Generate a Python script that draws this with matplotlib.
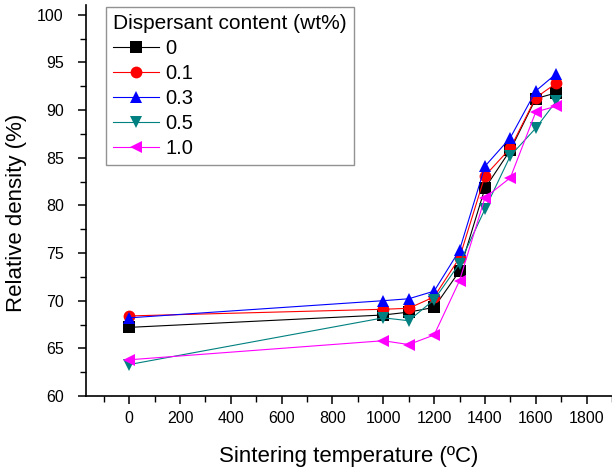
import numpy as np
import matplotlib as mpl
mpl.use("Agg")
from matplotlib import pyplot as plt
from matplotlib.ticker import MultipleLocator

plt.rcParams['font.family'] = ['Liberation Sans', 'DejaVu Sans']

# sintering temperatures (C)
temps = [0, 1000, 1100, 1200, 1300, 1400, 1500, 1600, 1680]

# relative density (%) per dispersant content
d_00 = [67.2, 68.5, 68.8, 69.3, 73.1, 81.8, 85.8, 91.2, 91.8]
d_01 = [68.4, 69.1, 69.2, 70.4, 74.5, 83.1, 86.0, 91.3, 92.8]
d_03 = [68.2, 70.0, 70.2, 71.0, 75.3, 84.1, 87.1, 92.0, 93.8]
d_05 = [63.3, 68.2, 67.9, 70.1, 73.9, 79.6, 85.2, 88.1, 90.9]
d_10 = [63.8, 65.8, 65.4, 66.4, 72.1, 80.8, 82.9, 89.8, 90.4]

labels = ['0', '0.1', '0.3', '0.5', '1.0']
series = [d_00, d_01, d_03, d_05, d_10]
colors = ['black', 'red', 'blue', '#008080', 'magenta']
markers = ['s', 'o', '^', 'v', '<']

fig = plt.figure(figsize=(6.12, 4.72), dpi=100)
ax = fig.add_axes([0.1405, 0.161, 0.8595, 0.828])

for ys, lab, c, m in zip(series, labels, colors, markers):
    ax.plot(temps, ys, color=c, lw=0.8, marker=m, markersize=8.5,
            markeredgewidth=0, label=lab)

ax.set_xlim(-170, 1900)
ax.set_ylim(60, 101)
ax.xaxis.set_major_locator(MultipleLocator(200))
ax.xaxis.set_minor_locator(MultipleLocator(100))
ax.yaxis.set_major_locator(MultipleLocator(5))
ax.yaxis.set_minor_locator(MultipleLocator(2.5))
ax.spines['top'].set_visible(False)
ax.spines['right'].set_visible(False)
ax.spines['left'].set_linewidth(1.2)
ax.spines['bottom'].set_linewidth(1.2)
ax.tick_params(which='major', direction='out', length=6, width=1.1, labelsize=11.5)
ax.tick_params(which='minor', direction='out', length=4, width=1.0)
ax.tick_params(axis='x', pad=5)
ax.tick_params(axis='y', pad=10)

ax.set_xlabel('Sintering temperature (ºC)', fontsize=16)
ax.set_ylabel('Relative density (%)', fontsize=16)
ax.xaxis.set_label_coords(0.5, -0.128)
ax.yaxis.set_label_coords(-0.112, 0.468)

leg = ax.legend(title='Dispersant content (wt%)', loc='upper left',
                bbox_to_anchor=(106 / 612, 1 - 7 / 472), bbox_transform=fig.transFigure,
                borderaxespad=0, fontsize=14.5, title_fontsize=15, frameon=True,
                fancybox=False, handlelength=2.3, handletextpad=0.3,
                labelspacing=0.3, borderpad=0.35, alignment='left')
leg.get_frame().set_edgecolor('#777777')
leg.get_frame().set_linewidth(1.0)

fig.savefig('out.png', dpi=100)
